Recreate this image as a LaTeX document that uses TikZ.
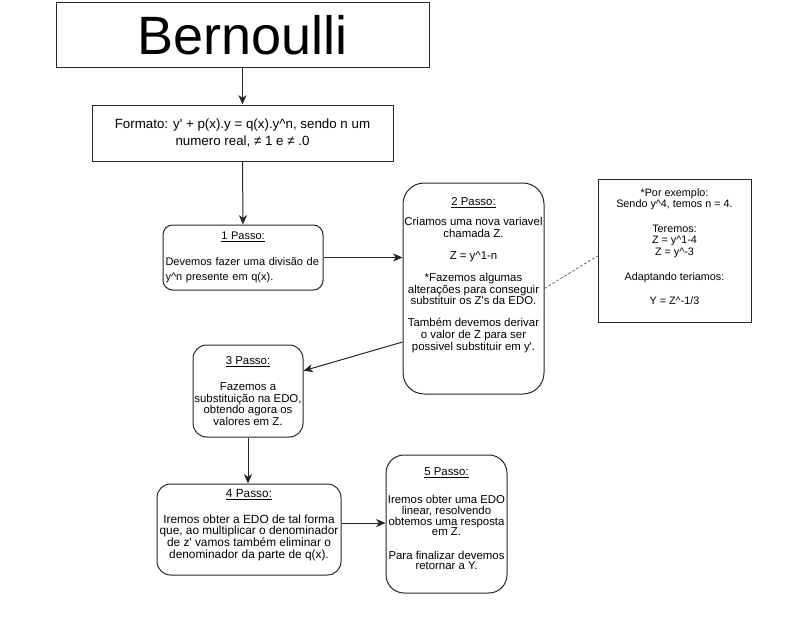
\documentclass[tikz,border=0pt]{standalone}
\usepackage{fontspec}
\setmainfont{Liberation Sans}
\usepackage{tikz}
\usetikzlibrary{positioning,calc,arrows.meta}

\begin{document}
\begin{tikzpicture}[
	x=0.75pt, y=-0.75pt,
	titlebox/.style={
		rectangle, draw=black!85, line width=0.75pt,
		inner sep=0pt, minimum width=279.75pt, minimum height=48.75pt,
		font=\fontsize{40.5}{48}\selectfont
	},
	plain/.style={
		rectangle, draw=black!85, line width=0.75pt, fill=white,
		align=center, inner sep=1pt,
		font=\fontsize{8.55}{8.8}\selectfont
	},
	passo/.style={plain, rounded corners=#1},
	arr/.style={
		draw=black!85, line width=0.75pt,
		-{Stealth[length=7pt,width=6pt,inset=2pt]}
	},
	dotline/.style={draw=black!70, line width=0.5pt, dash pattern=on 2pt off 1.5pt}
	]
	
	\useasboundingbox (0,0) rectangle (810,617);
	
	% --- TITULO ---
	\node[titlebox] (bern) at (242.5,35.5) {Bernoulli};
	
	% --- FORMATO ---
	\node[plain, minimum width=225.75pt, minimum height=42pt,
		font=\fontsize{10}{12.75}\selectfont] (form) at (242.5,133)
		{Formato: y\textquotesingle{} + p(x).y = q(x).y\textasciicircum n, sendo n um\\numero real, ≠ 1 e ≠ .0};
	
	% --- PASSO 1 ---
	\node[passo=7.3pt, minimum width=120pt, minimum height=48.75pt, text width=116.25pt, align=left,
		font=\fontsize{8.25}{8.8}\selectfont] (p1) at (243,257.5)
		{\hfill\underline{1 Passo:}\hfill\null\\[10.7pt]
		Devemos fazer uma divisão de\\[2.6pt]y\textasciicircum n presente em q(x).};
	
	% --- PASSO 2 ---
	\node[passo=15.9pt, minimum width=105.75pt, minimum height=158.25pt] (p2) at (473.5,288.5)
		{\underline{2 Passo:}\\[6.2pt]
		Criamos uma nova variavel\\chamada Z.\\[7.7pt]
		Z = y\textasciicircum 1-n\\[7.7pt]
		*Fazemos algumas\\alterações para conseguir\\substituir os Z\textquotesingle s da EDO.\\[7.7pt]
		Também devemos derivar\\o valor de Z para ser\\possivel substituir em y\textquotesingle.\\[12.8pt]\mbox{}};
	
	% --- EXEMPLO ---
	\node[plain, minimum width=114.75pt, minimum height=107.25pt,
		font=\fontsize{8.1}{8.6}\selectfont] (ex) at (674.5,250.5)
		{*Por exemplo:\\Sendo y\textasciicircum 4, temos n = 4.\\[10pt]
		Teremos:\\Z = y\textasciicircum 1-4\\Z = y\textasciicircum -3\\[10pt]
		Adaptando teriamos:\\[10pt]
		Y = Z\textasciicircum -1/3\\[-2.6pt]\mbox{}};
	
	% --- PASSO 3 ---
	\node[passo=10.35pt, minimum width=82.5pt, minimum height=69pt] (p3) at (248,391)
		{\underline{3 Passo:}\\[10.7pt]
		Fazemos a\\substituição na EDO,\\obtendo agora os\\valores em Z.};
	
	% --- PASSO 4 ---
	\node[passo=10.2pt, minimum width=138pt, minimum height=68.25pt,
		font=\fontsize{8.9}{8.8}\selectfont] (p4) at (249,529.5)
		{\underline{4 Passo:}\\[10.7pt]
		Iremos obter a EDO de tal forma\\que, ao multiplicar o denominador\\de z\textquotesingle{} vamos também eliminar o\\denominador da parte de q(x).\\\mbox{}};
	
	% --- PASSO 5 ---
	\node[passo=13.6pt, minimum width=90.75pt, minimum height=103.5pt,
		font=\fontsize{8.55}{8}\selectfont] (p5) at (446.5,524)
		{\underline{5 Passo:}\\[12.25pt]
		Iremos obter uma EDO\\linear, resolvendo\\obtemos uma resposta\\em Z.\\[9.5pt]
		Para finalizar devemos\\retornar a Y.\\\mbox{}};
	
	% --- LIGACOES ---
	\draw[arr] (bern.south) -- (form.north);
	\draw[arr] (form.south) -- (p1.north);
	\draw[arr] (p1.east) -- (p1.east -| p2.west);
	\draw[dotline] (p2.east) -- (ex.184);
	\draw[arr] (p2.217.7) -- (p3.20.9);
	\draw[arr] (p3.south) -- (p3.south |- p4.north);
	\draw[arr] (p4.4) -- (p4.4 -| p5.west);
	
\end{tikzpicture}
\end{document}
